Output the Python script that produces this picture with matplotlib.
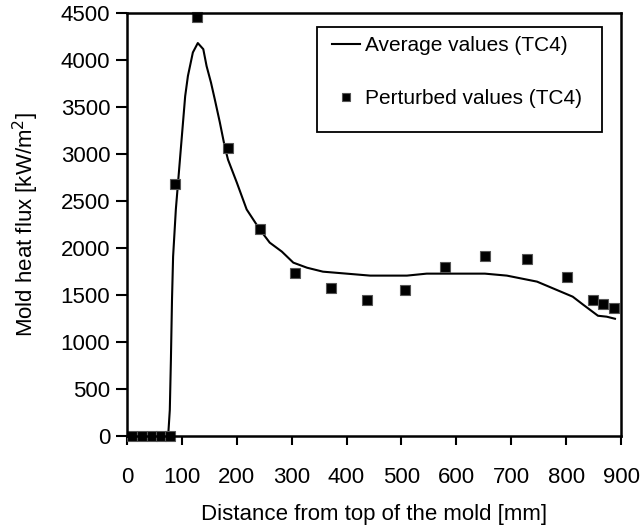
import matplotlib.pyplot as plt
from matplotlib.patches import Rectangle

plt.rcParams['font.family'] = ['Liberation Sans', 'DejaVu Sans']
plt.rcParams['font.size'] = 16

# average values (line)
avg_x = [0, 75, 78, 80, 82, 84, 89, 98, 106, 111, 120, 129, 139, 145, 153, 160,
         169, 178, 184, 200, 218, 242, 260, 282, 303, 328, 357, 443, 510, 546,
         652, 692, 747, 812, 831, 858, 874, 889]
avg_y = [0, 0, 277, 810, 1450, 1908, 2410, 3050, 3615, 3830, 4080, 4180, 4115,
         3935, 3760, 3580, 3340, 3080, 2940, 2697, 2410, 2196, 2057, 1962, 1844,
         1790, 1748, 1706, 1706, 1727, 1727, 1706, 1642, 1482, 1397, 1279, 1269, 1247]

# perturbed values (squares)
pert_x = [9, 27, 45, 62, 78, 87, 128, 184, 242, 306, 372, 437, 506, 579, 652,
          728, 801, 849, 867, 887]
pert_y = [0, 0, 0, 0, 0, 2680, 4460, 3060, 2207, 1737, 1578, 1450, 1557, 1802,
          1919, 1887, 1695, 1450, 1407, 1364]

fig = plt.figure(figsize=(6.43, 5.32), dpi=100)
ax = fig.add_axes([0.1975, 0.1805, 0.7683, 0.7951])

ax.plot(avg_x, avg_y, color='black', lw=1.5, label='Average values (TC4)')
ax.plot(pert_x, pert_y, ls='none', marker='s', ms=7.5, mfc='black',
        mec='#555555', mew=0.8, label='Perturbed values (TC4)', clip_on=False)

ax.set_xlim(0, 900)
ax.set_ylim(0, 4500)
ax.set_xticks(range(0, 901, 100))
ax.set_yticks(range(0, 4501, 500))
ax.tick_params(axis='y', direction='out', length=8, width=1.5, pad=4)
ax.tick_params(axis='x', direction='out', length=6.5, width=1.5, pad=16)
for s in ax.spines.values():
    s.set_linewidth(1.8)

ax.set_xlabel('Distance from top of the mold [mm]', labelpad=11)
ax.set_ylabel('Mold heat flux [kW/m$^2$]', labelpad=14)

# legend frame drawn separately (text sits higher than centre in the original)
ax.add_patch(Rectangle((0.385, 0.718), 0.577, 0.249, transform=ax.transAxes,
                       facecolor='white', edgecolor='black', lw=1.3, zorder=4))
leg = ax.legend(loc='upper left', bbox_to_anchor=(0.415, 0.946),
                frameon=False, borderaxespad=0, borderpad=0,
                handlelength=1.35, handletextpad=0.25, labelspacing=1.65,
                markerscale=0.75, fontsize=15)
leg.set_zorder(5)

fig.savefig('out.png', dpi=100)
